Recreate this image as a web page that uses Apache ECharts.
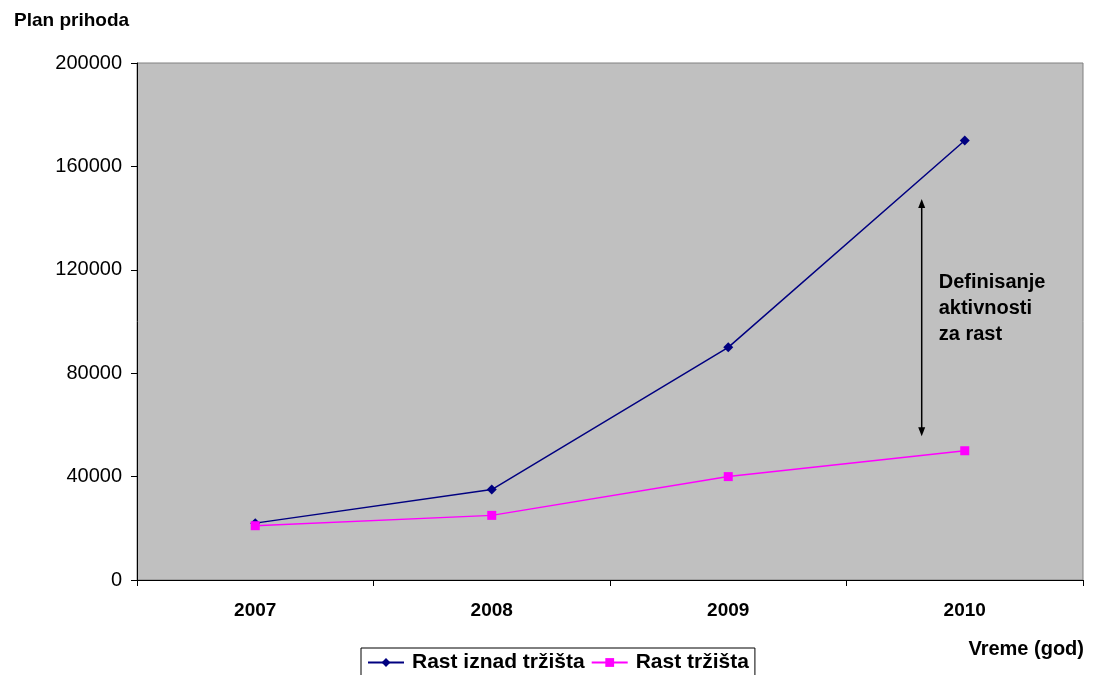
<!DOCTYPE html>
<html>
<head>
<meta charset="utf-8">
<script src="https://cdn.jsdelivr.net/npm/echarts@6/dist/echarts.min.js"></script>
<style>
  html, body { margin: 0; padding: 0; background: #fff; }
  #chart { width: 1094px; height: 675px; }
</style>
</head>
<body>
<div id="chart"></div>
<script>
// Planned revenue by year, two growth scenarios
const years = ['2007', '2008', '2009', '2010'];
const aboveMarket = [22000, 35000, 90000, 170000];
const market = [21000, 25000, 40000, 50000];
const yTicks = [0, 40000, 80000, 120000, 160000, 200000];

// Span of the double-headed arrow (revenue gap to close)
const gapTop = 147000;
const gapBottom = 56000;

const FONT = '"Liberation Sans", Arial, sans-serif';

const chart = echarts.init(document.getElementById('chart'), null, { renderer: 'canvas' });

const option = {
  animation: false,
  backgroundColor: '#ffffff',
  textStyle: { fontFamily: FONT },
  grid: {
    left: 137, right: 11, top: 63, bottom: 95,
    show: true, backgroundColor: '#C0C0C0', borderColor: '#808080', borderWidth: 1
  },
  title: [
    { text: 'Plan prihoda', left: 9, top: 6,
      textStyle: { fontFamily: FONT, fontSize: 19, fontWeight: 'bold', color: '#000' } },
    { text: 'Vreme (god)', right: 5, top: 634,
      textStyle: { fontFamily: FONT, fontSize: 20, fontWeight: 'bold', color: '#000' } }
  ],
  legend: {
    left: 361, top: 648,
    orient: 'horizontal',
    borderColor: '#000', borderWidth: 1,
    padding: [4, 6, 8, 6],
    itemWidth: 36, itemHeight: 11, itemGap: 6,
    textStyle: { fontFamily: FONT, fontSize: 21, fontWeight: 'bold', color: '#000', padding: [0, 0, 0, 3] },
    data: ['Rast iznad tržišta', 'Rast tržišta']
  },
  xAxis: {
    type: 'category',
    data: years,
    boundaryGap: true,
    axisLine: { lineStyle: { color: '#000', width: 1 } },
    axisTick: { show: true, alignWithLabel: false, length: 6, lineStyle: { color: '#000' } },
    axisLabel: { fontFamily: FONT, fontSize: 19, fontWeight: 'bold', color: '#000', margin: 21 },
    splitLine: { show: false }
  },
  yAxis: {
    type: 'value',
    min: yTicks[0], max: yTicks[yTicks.length - 1], interval: 40000,
    axisLine: { show: true, lineStyle: { color: '#000', width: 1 } },
    axisTick: { show: true, length: 6, lineStyle: { color: '#000' } },
    axisLabel: { fontFamily: FONT, fontSize: 20, color: '#000', margin: 15,
                 formatter: (v) => String(v) },
    splitLine: { show: false }
  },
  series: [
    {
      name: 'Rast iznad tržišta', type: 'line', data: aboveMarket,
      symbol: 'diamond', symbolSize: 10,
      lineStyle: { color: '#000080', width: 1.5 },
      itemStyle: { color: '#000080' }
    },
    {
      name: 'Rast tržišta', type: 'line', data: market,
      symbol: 'rect', symbolSize: 9,
      lineStyle: { color: '#FF00FF', width: 1.5 },
      itemStyle: { color: '#FF00FF' }
    }
  ]
};

chart.setOption(option);

// Annotation arrow between the two scenarios, placed via the axes
const yTop = chart.convertToPixel({ yAxisIndex: 0 }, gapTop);
const yBot = chart.convertToPixel({ yAxisIndex: 0 }, gapBottom);
const x09 = chart.convertToPixel({ xAxisIndex: 0 }, '2009');
const x10 = chart.convertToPixel({ xAxisIndex: 0 }, '2010');
const ax = x09 + (x10 - x09) * 0.818;

chart.setOption({
  graphic: [
    { type: 'line', shape: { x1: ax, y1: yTop + 6, x2: ax, y2: yBot - 6 },
      style: { stroke: '#000', lineWidth: 1.5 } },
    { type: 'polygon', shape: { points: [[ax, yTop - 1], [ax - 3.5, yTop + 8], [ax + 3.5, yTop + 8]] },
      style: { fill: '#000' } },
    { type: 'polygon', shape: { points: [[ax, yBot + 1], [ax - 3.5, yBot - 8], [ax + 3.5, yBot - 8]] },
      style: { fill: '#000' } },
    { type: 'text', left: ax + 17, top: yTop + 69,
      style: { text: 'Definisanje\naktivnosti\nza rast', fill: '#000',
               font: 'bold 20px "Liberation Sans", Arial, sans-serif', lineHeight: 26 } }
  ]
});
</script>
</body>
</html>
